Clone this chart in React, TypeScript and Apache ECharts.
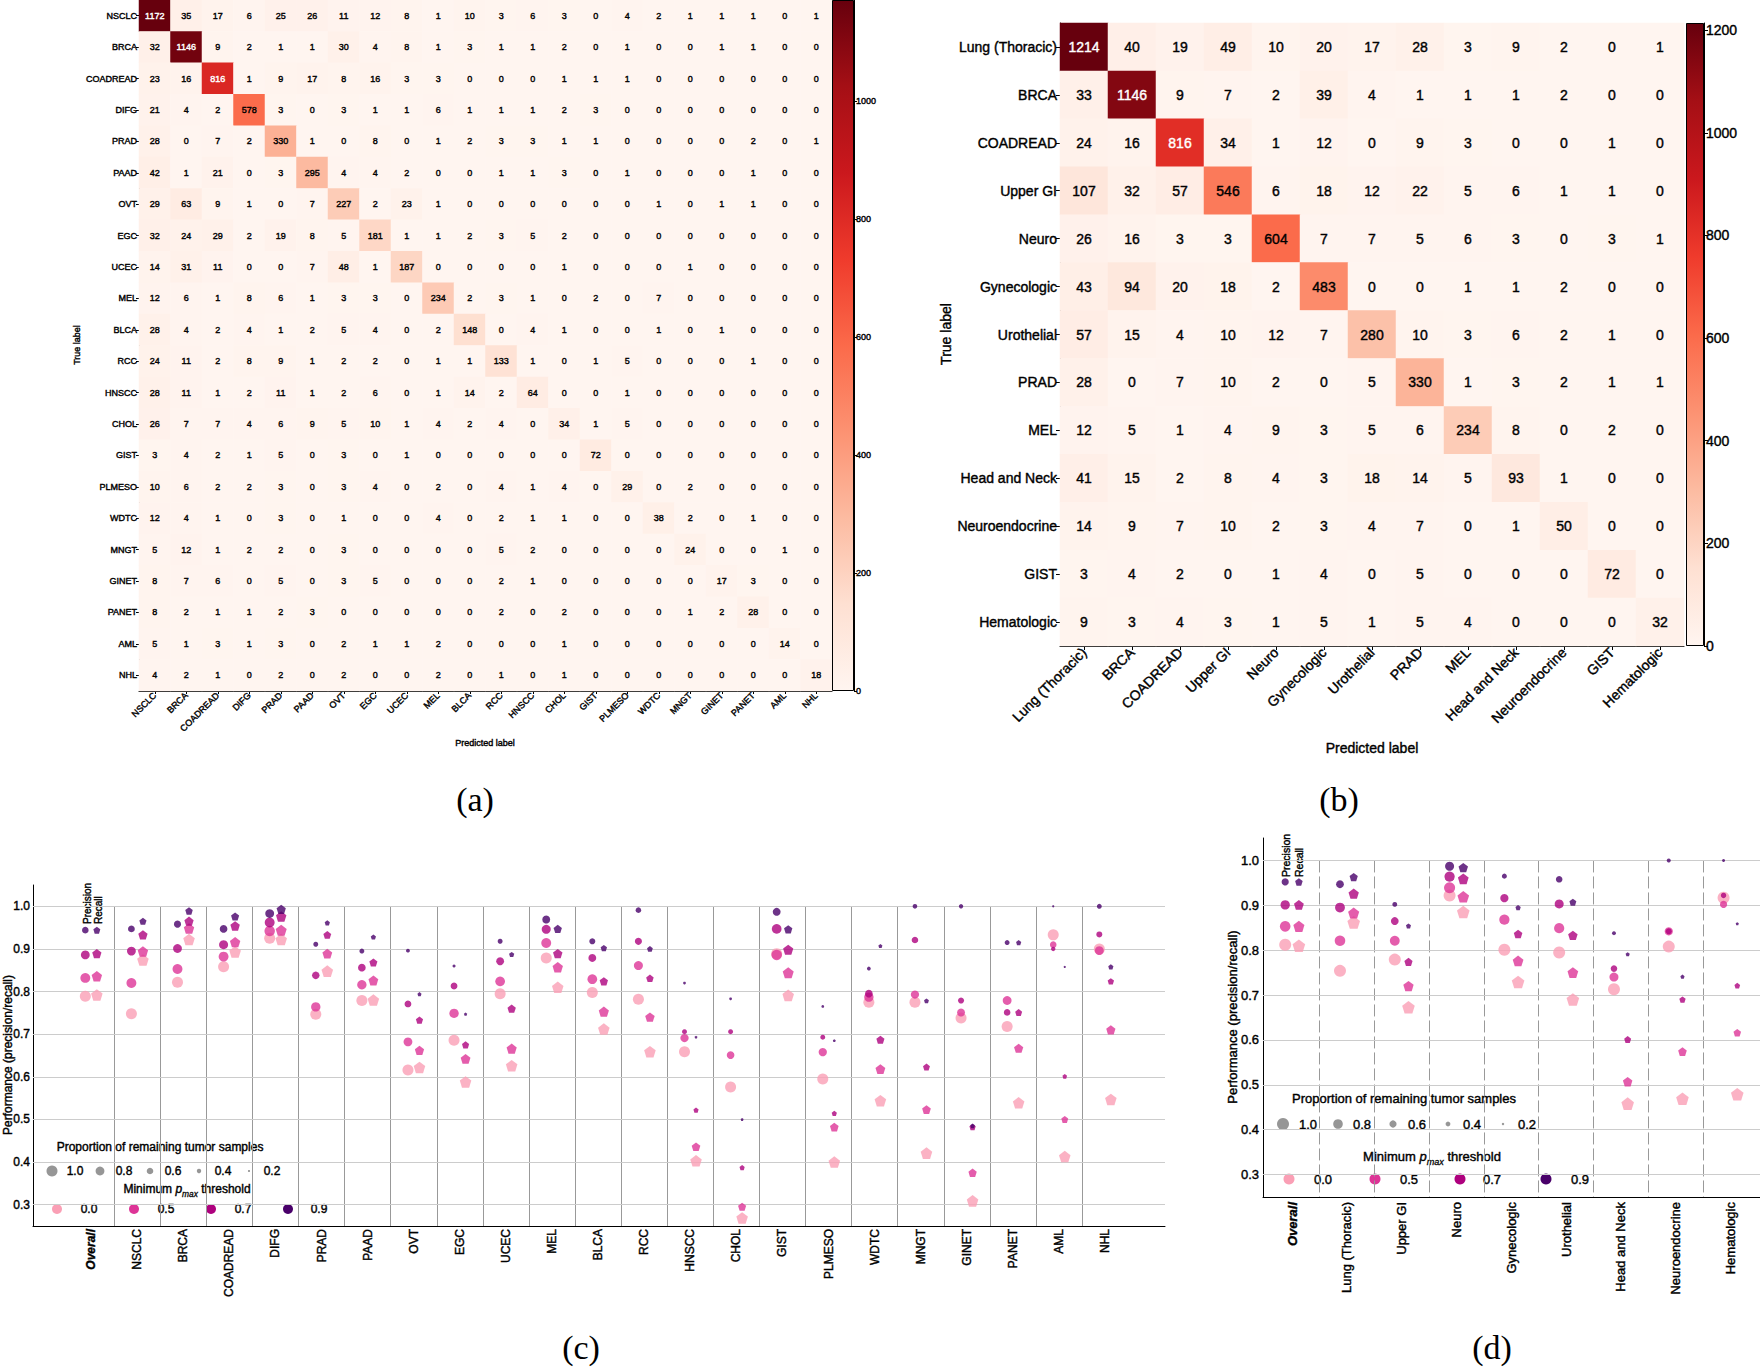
import React, { useEffect, useRef } from 'react';
import * as echarts from 'echarts';

const FONT = '"Liberation Sans", Arial, Helvetica, sans-serif';
const SERIF = '"Liberation Serif", "DejaVu Serif", serif';
const SW = 0.4; // slight text thickening

// ---------------- Panel (a) ----------------
const catsA = ['NSCLC', 'BRCA', 'COADREAD', 'DIFG', 'PRAD', 'PAAD', 'OVT', 'EGC', 'UCEC', 'MEL', 'BLCA', 'RCC', 'HNSCC', 'CHOL', 'GIST', 'PLMESO', 'WDTC', 'MNGT', 'GINET', 'PANET', 'AML', 'NHL'];
const confA = [
  [1172, 35, 17, 6, 25, 26, 11, 12, 8, 1, 10, 3, 6, 3, 0, 4, 2, 1, 1, 1, 0, 1],
  [32, 1146, 9, 2, 1, 1, 30, 4, 8, 1, 3, 1, 1, 2, 0, 1, 0, 0, 1, 1, 0, 0],
  [23, 16, 816, 1, 9, 17, 8, 16, 3, 3, 0, 0, 0, 1, 1, 1, 0, 0, 0, 0, 0, 0],
  [21, 4, 2, 578, 3, 0, 3, 1, 1, 6, 1, 1, 1, 2, 3, 0, 0, 0, 0, 0, 0, 0],
  [28, 0, 7, 2, 330, 1, 0, 8, 0, 1, 2, 3, 3, 1, 1, 0, 0, 0, 0, 2, 0, 1],
  [42, 1, 21, 0, 3, 295, 4, 4, 2, 0, 0, 1, 1, 3, 0, 1, 0, 0, 0, 1, 0, 0],
  [29, 63, 9, 1, 0, 7, 227, 2, 23, 1, 0, 0, 0, 0, 0, 0, 1, 0, 1, 1, 0, 0],
  [32, 24, 29, 2, 19, 8, 5, 181, 1, 1, 2, 3, 5, 2, 0, 0, 0, 0, 0, 0, 0, 0],
  [14, 31, 11, 0, 0, 7, 48, 1, 187, 0, 0, 0, 0, 1, 0, 0, 0, 1, 0, 0, 0, 0],
  [12, 6, 1, 8, 6, 1, 3, 3, 0, 234, 2, 3, 1, 0, 2, 0, 7, 0, 0, 0, 0, 0],
  [28, 4, 2, 4, 1, 2, 5, 4, 0, 2, 148, 0, 4, 1, 0, 0, 1, 0, 1, 0, 0, 0],
  [24, 11, 2, 8, 9, 1, 2, 2, 0, 1, 1, 133, 1, 0, 1, 5, 0, 0, 0, 1, 0, 0],
  [28, 11, 1, 2, 11, 1, 2, 6, 0, 1, 14, 2, 64, 0, 0, 1, 0, 0, 0, 0, 0, 0],
  [26, 7, 7, 4, 6, 9, 5, 10, 1, 4, 2, 4, 0, 34, 1, 5, 0, 0, 0, 0, 0, 0],
  [3, 4, 2, 1, 5, 0, 3, 0, 1, 0, 0, 0, 0, 0, 72, 0, 0, 0, 0, 0, 0, 0],
  [10, 6, 2, 2, 3, 0, 3, 4, 0, 2, 0, 4, 1, 4, 0, 29, 0, 2, 0, 0, 0, 0],
  [12, 4, 1, 0, 3, 0, 1, 0, 0, 4, 0, 2, 1, 1, 0, 0, 38, 2, 0, 1, 0, 0],
  [5, 12, 1, 2, 2, 0, 3, 0, 0, 0, 0, 5, 2, 0, 0, 0, 0, 24, 0, 0, 1, 0],
  [8, 7, 6, 0, 5, 0, 3, 5, 0, 0, 0, 2, 1, 0, 0, 0, 0, 0, 17, 3, 0, 0],
  [8, 2, 1, 1, 2, 3, 0, 0, 0, 0, 0, 2, 0, 2, 0, 0, 0, 1, 2, 28, 0, 0],
  [5, 1, 3, 1, 3, 0, 2, 1, 1, 2, 0, 0, 0, 1, 0, 0, 0, 0, 0, 0, 14, 0],
  [4, 2, 1, 0, 2, 0, 2, 0, 0, 2, 0, 1, 0, 1, 0, 0, 0, 0, 0, 0, 0, 18],
];
const cbarTicksA = [0, 200, 400, 600, 800, 1000];

// ---------------- Panel (b) ----------------
const catsB = ['Lung (Thoracic)', 'BRCA', 'COADREAD', 'Upper GI', 'Neuro', 'Gynecologic', 'Urothelial', 'PRAD', 'MEL', 'Head and Neck', 'Neuroendocrine', 'GIST', 'Hematologic'];
const confB = [
  [1214, 40, 19, 49, 10, 20, 17, 28, 3, 9, 2, 0, 1],
  [33, 1146, 9, 7, 2, 39, 4, 1, 1, 1, 2, 0, 0],
  [24, 16, 816, 34, 1, 12, 0, 9, 3, 0, 0, 1, 0],
  [107, 32, 57, 546, 6, 18, 12, 22, 5, 6, 1, 1, 0],
  [26, 16, 3, 3, 604, 7, 7, 5, 6, 3, 0, 3, 1],
  [43, 94, 20, 18, 2, 483, 0, 0, 1, 1, 2, 0, 0],
  [57, 15, 4, 10, 12, 7, 280, 10, 3, 6, 2, 1, 0],
  [28, 0, 7, 10, 2, 0, 5, 330, 1, 3, 2, 1, 1],
  [12, 5, 1, 4, 9, 3, 5, 6, 234, 8, 0, 2, 0],
  [41, 15, 2, 8, 4, 3, 18, 14, 5, 93, 1, 0, 0],
  [14, 9, 7, 10, 2, 3, 4, 7, 0, 1, 50, 0, 0],
  [3, 4, 2, 0, 1, 4, 0, 5, 0, 0, 0, 72, 0],
  [9, 3, 4, 3, 1, 5, 1, 5, 4, 0, 0, 0, 32],
];
const cbarTicksB = [0, 200, 400, 600, 800, 1000, 1200];

// ---------------- Panel (c) ----------------
const catsC = ['Overall', 'NSCLC', 'BRCA', 'COADREAD', 'DIFG', 'PRAD', 'PAAD', 'OVT', 'EGC', 'UCEC', 'MEL', 'BLCA', 'RCC', 'HNSCC', 'CHOL', 'GIST', 'PLMESO', 'WDTC', 'MNGT', 'GINET', 'PANET', 'AML', 'NHL'];
const precC00 = [0.789, 0.748, 0.822, 0.858, 0.925, 0.747, 0.779, 0.616, 0.686, 0.795, 0.879, 0.798, 0.782, 0.659, 0.576, 0.889, 0.595, 0.775, 0.775, 0.738, 0.718, 0.933, 0.900];
const precC05 = [0.832, 0.820, 0.853, 0.882, 0.942, 0.764, 0.816, 0.682, 0.749, 0.824, 0.914, 0.829, 0.861, 0.691, 0.651, 0.886, 0.658, 0.787, 0.793, 0.751, 0.779, 0.910, 0.896];
const precC07 = [0.886, 0.895, 0.901, 0.910, 0.962, 0.838, 0.856, 0.771, 0.813, 0.871, 0.946, 0.879, 0.918, 0.706, 0.706, 0.947, 0.693, 0.795, 0.921, 0.779, 0.751, 0.900, 0.934];
const precC09 = [0.944, 0.947, 0.958, 0.947, 0.983, 0.911, 0.895, 0.896, 0.860, 0.918, 0.969, 0.918, 0.991, 0.820, 0.783, 0.987, 0.765, 0.854, 1.0, 1.0, 0.915, 1.0, 1.0];
const recC00 = [0.792, 0.874, 0.922, 0.893, 0.922, 0.848, 0.780, 0.622, 0.588, 0.626, 0.810, 0.712, 0.659, 0.403, 0.269, 0.791, 0.400, 0.544, 0.421, 0.309, 0.539, 0.413, 0.547];
const recC05 = [0.836, 0.894, 0.948, 0.916, 0.944, 0.889, 0.826, 0.662, 0.642, 0.666, 0.857, 0.753, 0.740, 0.436, 0.295, 0.844, 0.482, 0.618, 0.523, 0.375, 0.667, 0.500, 0.710];
const recC07 = [0.889, 0.933, 0.965, 0.954, 0.976, 0.933, 0.868, 0.733, 0.675, 0.760, 0.889, 0.824, 0.831, 0.522, 0.387, 0.898, 0.514, 0.687, 0.623, 0.482, 0.751, 0.601, 0.824];
const recC09 = [0.944, 0.965, 0.989, 0.976, 0.993, 0.961, 0.928, 0.794, 0.747, 0.887, 0.947, 0.902, 0.900, 0.693, 0.500, 0.946, 0.685, 0.907, 0.778, 0.485, 0.915, 0.858, 0.858];
const propC00 = [1, 1, 1, 1, 1, 1, 1, 1, 1, 1, 1, 1, 1, 1, 1, 1, 1, 1, 1, 1, 1, 1, 1];
const propC05 = [0.9, 0.9, 0.9, 0.9, 0.95, 0.85, 0.85, 0.8, 0.85, 0.88, 0.9, 0.88, 0.82, 0.75, 0.7, 0.95, 0.75, 0.85, 0.75, 0.72, 0.8, 0.6, 0.8];
const propC07 = [0.8, 0.8, 0.8, 0.82, 0.9, 0.68, 0.7, 0.62, 0.62, 0.72, 0.82, 0.72, 0.65, 0.45, 0.45, 0.88, 0.45, 0.7, 0.6, 0.55, 0.6, 0.4, 0.55];
const propC09 = [0.6, 0.62, 0.65, 0.7, 0.8, 0.45, 0.45, 0.35, 0.28, 0.45, 0.72, 0.55, 0.5, 0.25, 0.25, 0.72, 0.25, 0.35, 0.42, 0.4, 0.45, 0.2, 0.45];

// ---------------- Panel (d) ----------------
const catsD = ['Overall', 'Lung (Thoracic)', 'Upper GI', 'Neuro', 'Gynecologic', 'Urothelial', 'Head and Neck', 'Neuroendocrine', 'Hematologic'];
const precD00 = [0.812, 0.754, 0.779, 0.922, 0.801, 0.795, 0.713, 0.808, 0.917];
const precD05 = [0.853, 0.821, 0.821, 0.939, 0.868, 0.849, 0.740, 0.842, 0.902];
const precD07 = [0.901, 0.895, 0.865, 0.964, 0.916, 0.903, 0.759, 0.842, 0.922];
const precD09 = [0.952, 0.947, 0.902, 0.987, 0.965, 0.958, 0.838, 1.0, 1.0];
const recD00 = [0.810, 0.862, 0.673, 0.885, 0.729, 0.690, 0.458, 0.469, 0.479];
const recD05 = [0.853, 0.883, 0.720, 0.919, 0.776, 0.750, 0.507, 0.574, 0.616];
const recD07 = [0.901, 0.926, 0.774, 0.959, 0.836, 0.833, 0.601, 0.690, 0.721];
const recD09 = [0.952, 0.963, 0.854, 0.984, 0.895, 0.907, 0.791, 0.741, 0.859];
const propD00 = [1, 1, 1, 1, 1, 1, 1, 1, 1];
const propD05 = [0.88, 0.88, 0.82, 0.92, 0.85, 0.85, 0.75, 0.68, 0.6];
const propD07 = [0.78, 0.82, 0.65, 0.85, 0.68, 0.75, 0.55, 0.5, 0.45];
const propD09 = [0.6, 0.65, 0.4, 0.75, 0.42, 0.55, 0.33, 0.33, 0.25];

const perfTicks = [0.3, 0.4, 0.5, 0.6, 0.7, 0.8, 0.9, 1.0];
const thresholds = ['0.0', '0.5', '0.7', '0.9'];
const sizeLegend = [1.0, 0.8, 0.6, 0.4, 0.2];

const REDS = ['#fff5f0', '#fee0d2', '#fcbba1', '#fc9272', '#fb6a4a', '#ef3b2c', '#cb181d', '#a50f15', '#67000d'];
const RDPU = ['#fa9fb5', '#dd3497', '#ae017e', '#49006a'];
const PENTAGON = 'path://M0,-10L9.511,-3.09L5.878,8.09L-5.878,8.09L-9.511,-3.09Z';

const thick = { textBorderColor: '#000', textBorderWidth: SW };

function heatData(m: number[][]) {
  const mx = Math.max(...m.flat());
  const out: any[] = [];
  m.forEach((row, r) =>
    row.forEach((v, c) => {
      const col = v > mx / 2 ? '#fff' : '#000';
      out.push({ value: [c, r, v], label: { color: col, textBorderColor: col, textBorderWidth: SW } });
    })
  );
  return out;
}

function gradient() {
  return new echarts.graphic.LinearGradient(
    0, 1, 0, 0,
    REDS.map((c, i) => ({ offset: i / (REDS.length - 1), color: c }))
  );
}

function T(x: number, y: number, text: string, fontSize: number, o: any = {}) {
  const serif = o.family === SERIF;
  return {
    type: 'text',
    x,
    y,
    rotation: o.rot || 0,
    silent: true,
    style: {
      text,
      fontSize,
      fontFamily: o.family || FONT,
      fontStyle: o.fontStyle || 'normal',
      fontWeight: o.fontWeight || 'normal',
      fill: '#000',
      stroke: serif ? null : '#000',
      lineWidth: serif ? 0 : SW,
      align: o.align || 'center',
      verticalAlign: o.va || 'middle',
      rich: o.rich,
    },
  };
}

function pmaxTitle(x: number, y: number, fs: number) {
  const base = { fontSize: fs, fontFamily: FONT, fill: '#000', stroke: '#000', lineWidth: SW, verticalAlign: 'bottom', padding: [0, 0, 3, 0] };
  return T(x, y, '{a|Minimum }{i|p}{s|max}{a| threshold}', fs, {
    rich: {
      a: base,
      i: { ...base, fontStyle: 'italic' },
      s: { fontSize: fs * 0.7, fontFamily: FONT, fill: '#000', stroke: '#000', lineWidth: SW * 0.7, fontStyle: 'italic', verticalAlign: 'bottom', padding: [0, 0, 0, 0] },
    },
  });
}

function scatterPanel(axisIdx: number, cats: string[], prec: number[][], rec: number[][], props: number[][], D: number, dashed: boolean) {
  const seps: any[] = [];
  for (let i = 0; i < cats.length - 1; i++) {
    seps.push([{ coord: [i + 0.5, 1.0] }, { coord: [i + 0.5, 0.25] }]);
  }
  const series: any[] = [
    {
      type: 'scatter', xAxisIndex: axisIdx, yAxisIndex: axisIdx, data: [], silent: true,
      markLine: {
        silent: true, z: 1, symbol: ['none', 'none'], label: { show: false }, animation: false,
        lineStyle: { color: '#999999', width: 1, type: dashed ? [12, 4] : 'solid' },
        emphasis: { disabled: true },
        data: seps,
      },
    },
    {
      type: 'scatter', xAxisIndex: axisIdx, yAxisIndex: axisIdx, data: [], silent: true,
      markLine: {
        silent: true, z: 2, symbol: ['none', 'none'], label: { show: false }, animation: false,
        lineStyle: { color: '#cccccc', width: 1, type: 'solid' },
        emphasis: { disabled: true },
        data: perfTicks.map((v) => ({ yAxis: v })),
      },
    },
  ];
  for (let t = 0; t < 4; t++) {
    series.push({
      type: 'scatter', xAxisIndex: axisIdx, yAxisIndex: axisIdx, silent: true, z: 3 + t,
      symbol: 'circle',
      symbolSize: (val: number[]) => Math.max(1.5, val[2] * D),
      itemStyle: { color: RDPU[t], opacity: 0.8 },
      emphasis: { disabled: true },
      data: prec[t].map((v, i) => [i - 0.125, v, props[t][i]]),
    });
    series.push({
      type: 'scatter', xAxisIndex: axisIdx, yAxisIndex: axisIdx, silent: true, z: 3 + t,
      symbol: PENTAGON,
      symbolSize: (val: number[]) => Math.max(1.5, val[2] * D * 1.05),
      itemStyle: { color: RDPU[t], opacity: 0.8 },
      emphasis: { disabled: true },
      data: rec[t].map((v, i) => [i + 0.125, v, props[t][i]]),
    });
  }
  return series;
}

function catValueAxis(gridIndex: number, cats: string[], min: number, max: number, fs: number, margin: number) {
  return {
    type: 'value', gridIndex, min, max,
    axisLine: { show: true, onZero: false, lineStyle: { color: '#000', width: 1 } },
    axisTick: { show: false },
    splitLine: { show: false },
    axisLabel: {
      customValues: cats.map((_, i) => i),
      rotate: 90, fontSize: fs, margin, color: '#000', fontFamily: FONT, ...thick,
      formatter: (v: number) => {
        const i = Math.round(v);
        return i === 0 ? '{it|' + cats[0] + '}' : cats[i];
      },
      rich: { it: { fontStyle: 'italic', fontWeight: 'bold', fontSize: fs, fontFamily: FONT, color: '#000' } },
    },
  };
}

function perfAxis(gridIndex: number, fs: number, margin: number) {
  return {
    type: 'value', gridIndex, min: 0.25, max: 1.05,
    axisLine: { show: true, onZero: false, lineStyle: { color: '#000', width: 1 } },
    axisTick: { show: false },
    splitLine: { show: false },
    axisLabel: {
      customValues: perfTicks, fontSize: fs, margin, color: '#000', fontFamily: FONT, ...thick,
      formatter: (v: number) => v.toFixed(1),
    },
  };
}

function heatCatAxis(gridIndex: number, cats: string[], isX: boolean, fs: number, tickLen: number, margin: number) {
  return {
    type: 'category', gridIndex, data: cats, inverse: !isX,
    axisLine: { show: true, onZero: false, lineStyle: { color: '#000', width: 1 } },
    axisTick: { show: true, alignWithLabel: true, length: tickLen, lineStyle: { color: '#000' } },
    splitLine: { show: false },
    axisLabel: { interval: 0, rotate: isX ? 45 : 0, fontSize: fs, margin, color: '#000', fontFamily: FONT, ...thick },
  };
}

function cbarAxes(gridIndex: number, max: number, ticks: number[], fs: number, tickLen: number) {
  return {
    x: { type: 'category', gridIndex, data: [''], show: false },
    y: {
      type: 'value', gridIndex, position: 'right', min: 0, max,
      axisLine: { show: true, onZero: false, lineStyle: { color: '#000', width: 1 } },
      axisTick: { show: true, length: tickLen, customValues: ticks, lineStyle: { color: '#000' } },
      axisLabel: {
        customValues: ticks, fontSize: fs, margin: 2, color: '#000', fontFamily: FONT, ...thick,
        formatter: (v: number) => String(Math.round(v)),
      },
      splitLine: { show: false },
    },
  };
}

function buildOption() {
  const maxA = Math.max(...confA.flat());
  const maxB = Math.max(...confB.flat());
  const cbA = cbarAxes(1, maxA, cbarTicksA, 9, 3);
  const cbB = cbarAxes(3, maxB, cbarTicksB, 14, 4);

  const grids = [
    { left: 139, top: 0, width: 693, height: 691 },
    { left: 832, top: 0, width: 22, height: 691 },
    { left: 1060, top: 23, width: 624, height: 623 },
    { left: 1686, top: 23, width: 18, height: 623 },
    { left: 33, top: 885, width: 1132, height: 341 },
    { left: 1263, top: 838, width: 497, height: 359 },
  ].map((g) => ({ ...g, containLabel: false, outerBoundsMode: 'none' }));

  const series: any[] = [
    {
      type: 'heatmap', xAxisIndex: 0, yAxisIndex: 0, data: heatData(confA), silent: true,
      label: { show: true, fontSize: 9, fontFamily: FONT, formatter: (p: any) => String(p.value[2]) },
      emphasis: { disabled: true },
    },
    {
      type: 'bar', xAxisIndex: 1, yAxisIndex: 1, data: [maxA], barWidth: '100%', silent: true,
      itemStyle: { color: gradient(), borderColor: '#000', borderWidth: 1 },
    },
    {
      type: 'heatmap', xAxisIndex: 2, yAxisIndex: 2, data: heatData(confB), silent: true,
      label: { show: true, fontSize: 14, fontFamily: FONT, formatter: (p: any) => String(p.value[2]) },
      emphasis: { disabled: true },
    },
    {
      type: 'bar', xAxisIndex: 3, yAxisIndex: 3, data: [maxB], barWidth: '100%', silent: true,
      itemStyle: { color: gradient(), borderColor: '#000', borderWidth: 1 },
    },
    ...scatterPanel(4, catsC, [precC00, precC05, precC07, precC09], [recC00, recC05, recC07, recC09], [propC00, propC05, propC07, propC09], 11, false),
    ...scatterPanel(5, catsD, [precD00, precD05, precD07, precD09], [recD00, recD05, recD07, recD09], [propD00, propD05, propD07, propD09], 12, true),
  ];

  const graphic: any[] = [
    // panel (a)
    T(77, 345, 'True label', 9, { rot: Math.PI / 2 }),
    T(485, 743, 'Predicted label', 9),
    T(475, 799, '(a)', 34, { family: SERIF }),
    // panel (b)
    T(946, 334, 'True label', 14, { rot: Math.PI / 2 }),
    T(1372, 748, 'Predicted label', 14),
    T(1339, 799, '(b)', 34, { family: SERIF }),
    // panel (c)
    T(8, 1055, 'Performance (precision/recall)', 12, { rot: Math.PI / 2 }),
    T(87, 924, 'Precision', 10, { rot: Math.PI / 2, align: 'left' }),
    T(98, 924, 'Recall', 10, { rot: Math.PI / 2, align: 'left' }),
    T(160, 1147, 'Proportion of remaining tumor samples', 12),
    pmaxTitle(187, 1190, 12),
    T(581, 1347, '(c)', 34, { family: SERIF }),
    // panel (d)
    T(1232, 1017, 'Performance (precision/recall)', 13, { rot: Math.PI / 2 }),
    T(1286, 877, 'Precision', 10.5, { rot: Math.PI / 2, align: 'left' }),
    T(1299, 877, 'Recall', 10.5, { rot: Math.PI / 2, align: 'left' }),
    T(1404, 1098, 'Proportion of remaining tumor samples', 13),
    pmaxTitle(1432, 1158, 13),
    T(1492, 1347, '(d)', 34, { family: SERIF }),
  ];

  const sizeXC = [52, 100, 150, 199, 249];
  const sizeLXC = [75, 124, 173, 223, 272];
  const colXC = [57, 134, 211, 288];
  const colLXC = [89, 166, 243, 319];
  sizeLegend.forEach((p, i) => {
    graphic.push({ type: 'circle', silent: true, shape: { cx: sizeXC[i], cy: 1171, r: (11 * p) / 2 }, style: { fill: '#969696' } });
    graphic.push(T(sizeLXC[i], 1171, p.toFixed(1), 12));
  });
  thresholds.forEach((t, i) => {
    graphic.push({ type: 'circle', silent: true, shape: { cx: colXC[i], cy: 1209, r: 5 }, style: { fill: RDPU[i] } });
    graphic.push(T(colLXC[i], 1209, t, 12));
  });

  const sizeXD = [1283, 1338, 1393, 1448, 1503];
  const sizeLXD = [1308, 1362, 1417, 1472, 1527];
  const colXD = [1289, 1375, 1460, 1546];
  const colLXD = [1323, 1409, 1492, 1580];
  sizeLegend.forEach((p, i) => {
    graphic.push({ type: 'circle', silent: true, shape: { cx: sizeXD[i], cy: 1124, r: (12 * p) / 2 }, style: { fill: '#969696' } });
    graphic.push(T(sizeLXD[i], 1124, p.toFixed(1), 13));
  });
  thresholds.forEach((t, i) => {
    graphic.push({ type: 'circle', silent: true, shape: { cx: colXD[i], cy: 1179, r: 5.5 }, style: { fill: RDPU[i] } });
    graphic.push(T(colLXD[i], 1179, t, 13));
  });

  return {
    animation: false,
    backgroundColor: '#ffffff',
    textStyle: { fontFamily: FONT, color: '#000' },
    grid: grids,
    xAxis: [
      heatCatAxis(0, catsA, true, 9, 3, 3),
      cbA.x,
      heatCatAxis(2, catsB, true, 14, 4, 4),
      cbB.x,
      catValueAxis(4, catsC, -1.26, 23.3, 12, 3),
      catValueAxis(5, catsD, -0.53, 8.54, 13, 5),
    ],
    yAxis: [
      heatCatAxis(0, catsA, false, 9, 3, 2),
      cbA.y,
      heatCatAxis(2, catsB, false, 14, 4, 3),
      cbB.y,
      perfAxis(4, 12, 3),
      perfAxis(5, 13, 4),
    ],
    visualMap: [
      { type: 'continuous', show: false, seriesIndex: 0, dimension: 2, min: 0, max: maxA, inRange: { color: REDS } },
      { type: 'continuous', show: false, seriesIndex: 2, dimension: 2, min: 0, max: maxB, inRange: { color: REDS } },
    ],
    series,
    graphic,
  };
}

export default function App() {
  const ref = useRef<HTMLDivElement>(null);
  useEffect(() => {
    document.body.style.margin = '0';
    const chart = echarts.init(ref.current as HTMLDivElement, null, { renderer: 'svg' });
    chart.setOption(buildOption() as any);
    return () => chart.dispose();
  }, []);
  return (
    <div
      ref={ref}
      style={{ position: 'absolute', left: 0, top: 0, width: 1760, height: 1368, background: '#fff' }}
    />
  );
}
